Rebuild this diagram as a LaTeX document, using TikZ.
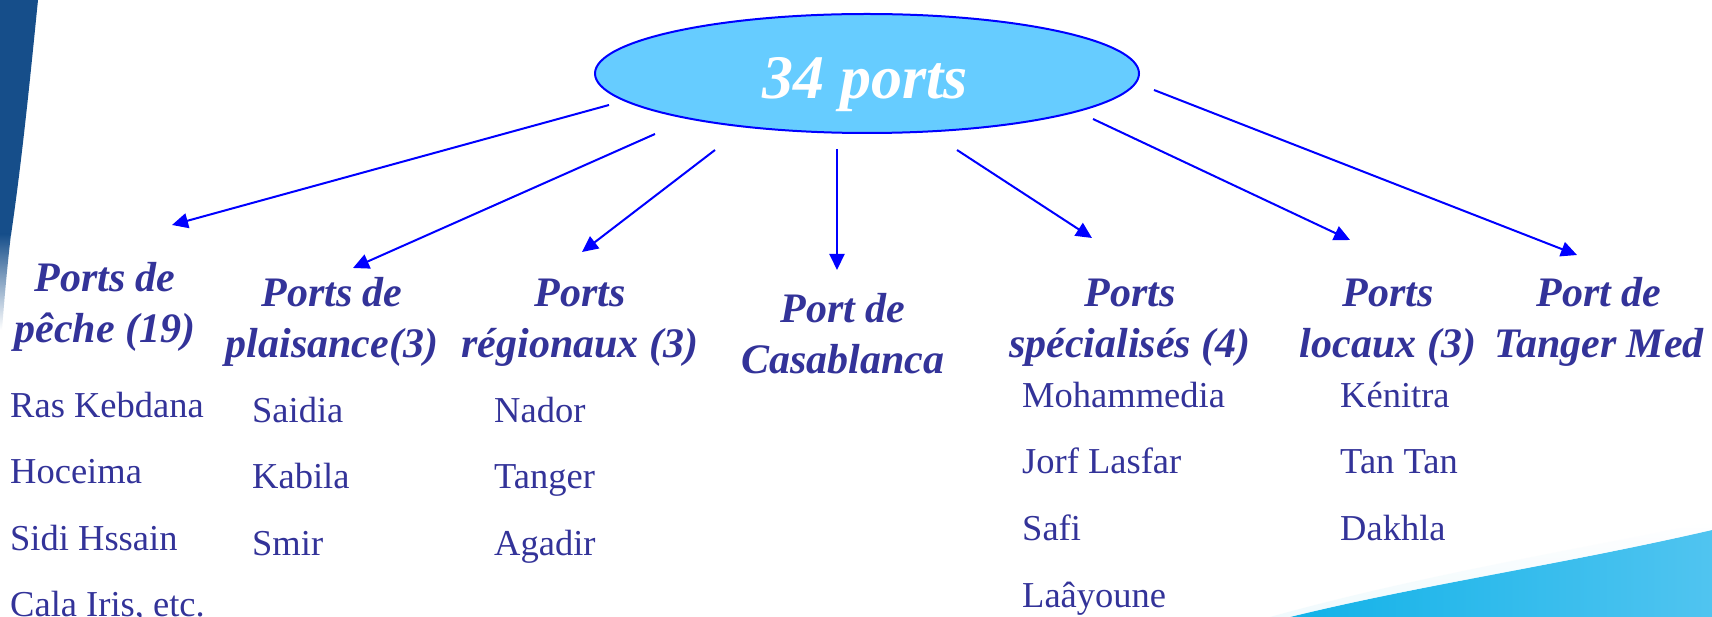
\documentclass[tikz,border=0pt]{standalone}
\usepackage{fontspec}
\setmainfont{Liberation Serif}
\usetikzlibrary{arrows.meta,shapes.geometric}

\definecolor{txtblue}{RGB}{51,51,153}
\definecolor{linkblue}{RGB}{0,0,255}
\definecolor{bubble}{RGB}{102,204,255}
\definecolor{bandblue}{RGB}{22,78,138}
\definecolor{seacyan}{RGB}{18,178,232}
\definecolor{seapale}{RGB}{80,196,240}

\tikzset{
  heading/.style={inner sep=0pt, text=txtblue, align=center, anchor=base,
    font=\fontsize{42}{51}\selectfont\bfseries\itshape},
  item/.style={inner sep=0pt, anchor=base west, text=txtblue,
    font=\fontsize{36.5}{44}\selectfont},
  link/.style={draw=linkblue, line width=2pt,
    -{Triangle[length=16pt,width=15pt]}},
}

\begin{document}
\begin{tikzpicture}[x=1pt,y=-1pt]
\useasboundingbox (0,0) rectangle (1712,617);
\fill[white] (0,0) rectangle (1712,617);

% dark blue band on the left edge, fading out lower down
\fill[bandblue] (0,0) -- (38,0) .. controls (30,80) and (22,160) .. (11,235) -- (0,235) -- cycle;
\shade[top color=bandblue, bottom color=white]
  (0,234) -- (11,234) .. controls (8,260) and (5,290) .. (2,330) -- (0,330) -- cycle;

% cyan swoosh in the lower right corner
\shade[left color=seacyan, right color=seapale]
  (1290,617) .. controls (1420,585) and (1560,565) .. (1712,530)
  -- (1712,617) -- cycle;
\shade[top color=white, bottom color=seacyan!12, opacity=0.5]
  (1270,617) .. controls (1410,578) and (1560,552) .. (1712,522)
  -- (1712,530) .. controls (1560,565) and (1420,585) .. (1290,617) -- cycle;

% central bubble
\node[ellipse, draw=linkblue, line width=2pt, fill=bubble,
      minimum width=544pt, minimum height=119pt, inner sep=0pt] (root) at (867,73.5) {};
\node[inner sep=0pt, anchor=base, text=white,
      font=\fontsize{62}{70}\selectfont\bfseries\itshape] (title) at (865,99) {34 ports};

% category headings (placed by the baseline of their last line)
\node[heading] (peche)  at (105,342)  {Ports de\\pêche (19)};
\node[heading] (plais)  at (332,357)  {Ports de\\plaisance(3)};
\node[heading] (region) at (580,357)  {Ports\\régionaux (3)};
\node[heading] (casa)   at (843,373)  {Port de\\Casablanca};
\node[heading] (spec)   at (1130,357) {Ports\\spécialisés (4)};
\node[heading] (locaux) at (1388,357) {Ports\\locaux (3)};
\node[heading] (tmed)   at (1599,357) {Port de\\Tanger Med};

% port lists
\node[item] (p1) at (10,417) {Ras Kebdana};
\node[item] (p2) at (10,483) {Hoceima};
\node[item] (p3) at (10,550) {Sidi Hssain};
\node[item] (p4) at (10,616) {Cala Iris, etc.};

\node[item] (l1) at (252,422) {Saidia};
\node[item] (l2) at (252,488) {Kabila};
\node[item] (l3) at (252,555) {Smir};

\node[item] (r1) at (494,422) {Nador};
\node[item] (r2) at (494,488) {Tanger};
\node[item] (r3) at (494,555) {Agadir};

\node[item] (s1) at (1022,407) {Mohammedia};
\node[item] (s2) at (1022,473) {Jorf Lasfar};
\node[item] (s3) at (1022,540) {Safi};
\node[item] (s4) at (1022,607) {Laâyoune};

\node[item] (c1) at (1340,407) {Kénitra};
\node[item] (c2) at (1340,473) {Tan Tan};
\node[item] (c3) at (1340,540) {Dakhla};

% arrow end points
\coordinate (a1) at (609,105);  \coordinate (b1) at (172,225);
\coordinate (a2) at (655,134);  \coordinate (b2) at (353,268);
\coordinate (a3) at (715,150);  \coordinate (b3) at (582,252);
\coordinate (a4) at (837,149);  \coordinate (b4) at (837,270);
\coordinate (a5) at (957,150);  \coordinate (b5) at (1092,238);
\coordinate (a6) at (1093,119); \coordinate (b6) at (1350,240);
\coordinate (a7) at (1154,90);  \coordinate (b7) at (1577,255);

\foreach \i in {1,...,7} \draw[link] (a\i) -- (b\i);
\end{tikzpicture}
\end{document}
